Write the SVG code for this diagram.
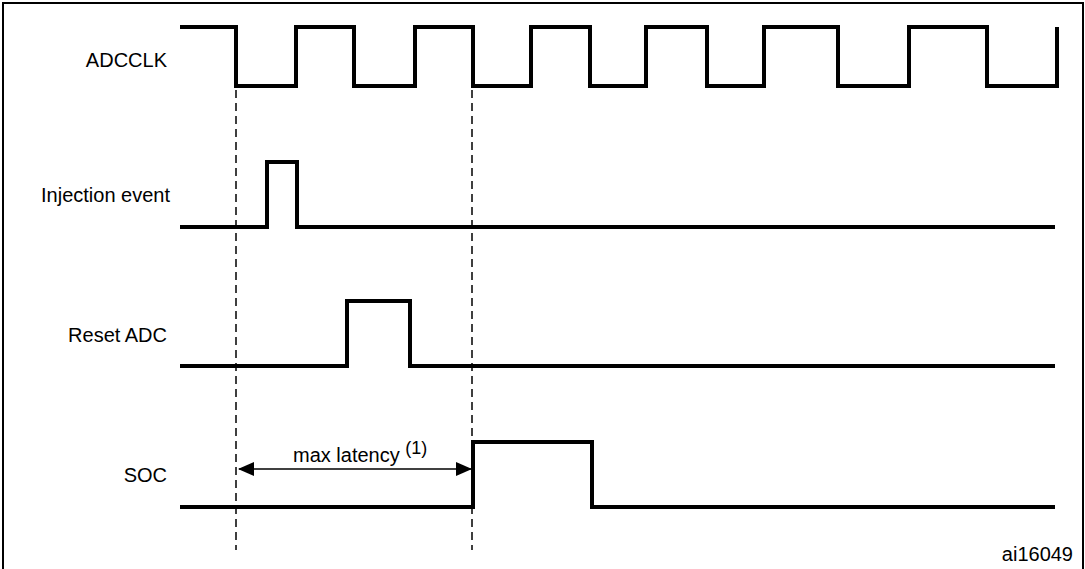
<svg xmlns="http://www.w3.org/2000/svg" width="1085" height="569" viewBox="0 0 1085 569">
<style>
.sig{fill:none;stroke:#000;stroke-width:4;stroke-linejoin:miter}
.lbl{font-family:"Liberation Sans",Arial,sans-serif;font-size:20px;fill:#000}
.dash{stroke:#000;stroke-width:1.5;stroke-dasharray:8,5}
</style>
<defs><marker id="ah" markerWidth="16" markerHeight="14" refX="15" refY="7" orient="auto-start-reverse" markerUnits="userSpaceOnUse"><path d="M0,0 L16,7 L0,14 Z" fill="#000"/></marker></defs>
<rect width="1085" height="569" fill="#fff"/>
<path d="M3,572 V3 H1083 V572" fill="none" stroke="#000" stroke-width="2"/>
<g id="labels">
<text class="lbl" x="167" y="67" text-anchor="end">ADCCLK</text>
<text class="lbl" x="170" y="202" text-anchor="end">Injection event</text>
<text class="lbl" x="167" y="342" text-anchor="end">Reset ADC</text>
<text class="lbl" x="167" y="482" text-anchor="end">SOC</text>
<text class="lbl" x="1073" y="561" text-anchor="end" font-size="16">ai16049</text>
</g>
<g id="adcclk"><path class="sig" d="M180,27 H236 V86 H296 V27 H354 V86 H415 V27 H473 V86 H531 V27 H590 V86 H646 V27 H707 V86 H764 V27 H838 V86 H909 V27 H987 V86 H1057 V27"/></g>
<g id="injection"><path class="sig" d="M180,227 H267 V162 H297 V227 H1055"/></g>
<g id="reset"><path class="sig" d="M180,366 H347 V301 H410 V366 H1055"/></g>
<g id="soc"><path class="sig" d="M180,507 H473 V442 H592 V507 H1055"/></g>
<g id="connectors">
<line class="dash" x1="236" y1="90" x2="236" y2="550"/>
<line class="dash" x1="472" y1="90" x2="472" y2="550"/>
<line x1="239" y1="469" x2="471" y2="469" stroke="#000" stroke-width="1.5" marker-start="url(#ah)" marker-end="url(#ah)"/>
<text class="lbl" x="293" y="462" font-size="20">max latency <tspan font-size="18" dy="-8">(1)</tspan></text>
</g>
</svg>
